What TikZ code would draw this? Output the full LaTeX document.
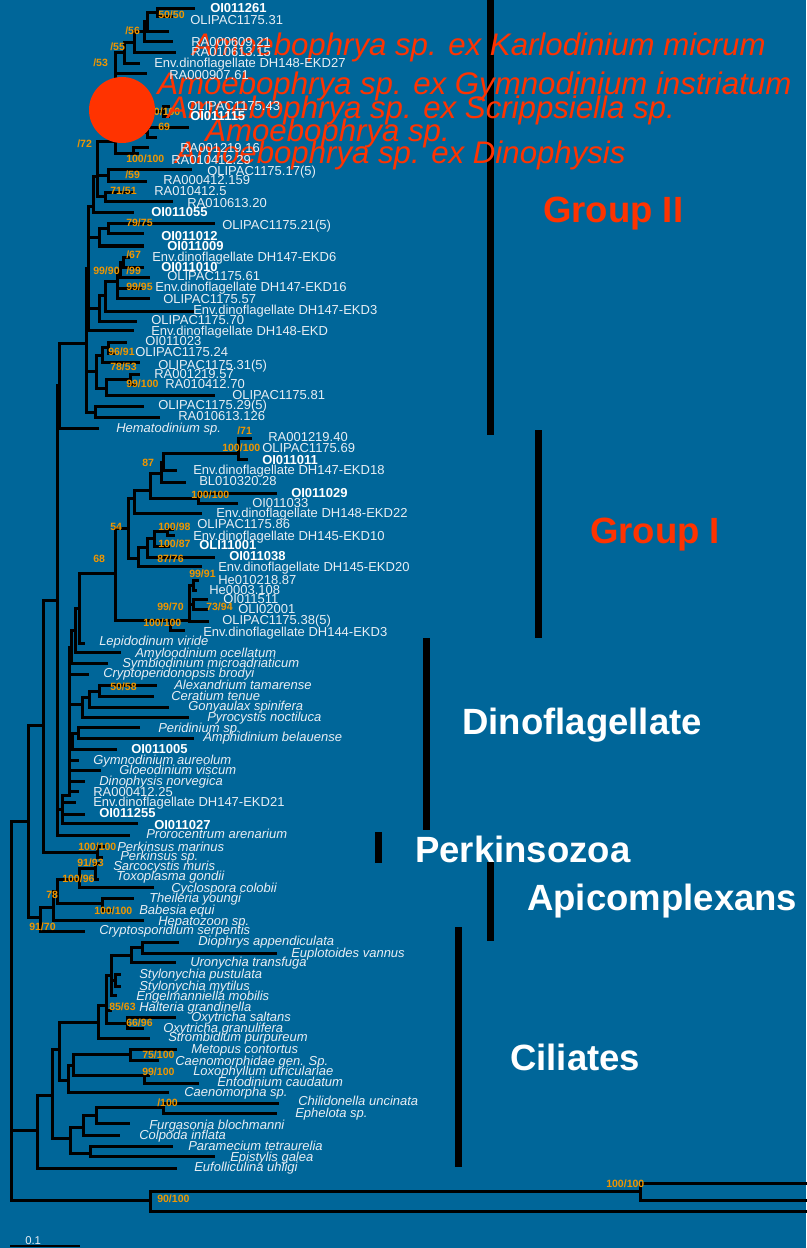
\documentclass[tikz,border=0pt]{standalone}
\usepackage{fontspec}
\setmainfont{Liberation Sans}
\definecolor{bgc}{RGB}{0,102,153}
\definecolor{bootc}{RGB}{240,150,0}
\definecolor{redc}{RGB}{255,51,0}
\definecolor{labc}{RGB}{232,238,244}
\newcommand\nw[3]{\coordinate (#1) at (#2,#3);}
\newcommand\kids[2]{\foreach \kk in {#2}{\draw[br] (#1) |- (\kk);}}
\newcommand\lr[4]{\node[lab] (#1) at (#2,#3) {#4};}
\newcommand\lbd[4]{\node[labb] (#1) at (#2,#3) {#4};}
\newcommand\lit[4]{\node[labi] (#1) at (#2,#3) {#4};}
\newcommand\bs[4]{\node[boot] (#1) at (#2,#3) {#4};}
\begin{document}
\begin{tikzpicture}[x=0.75pt,y=-0.75pt,
  br/.style={line width=2.25pt, line cap=rect, black},
  lab/.style={anchor=base west, inner sep=0pt, yshift=-3.5pt, text=labc, font=\fontsize{9.75}{10}\selectfont},
  labb/.style={lab, text=white, font=\fontsize{9.75}{10}\selectfont\bfseries},
  labi/.style={lab, font=\fontsize{9.75}{10}\selectfont\itshape},
  boot/.style={anchor=base west, inner sep=0pt, yshift=-2.85pt, text=bootc, font=\fontsize{7.9}{8}\selectfont\bfseries},
  redl/.style={anchor=base west, inner sep=0pt, yshift=-8.4pt, text=redc, font=\fontsize{23.4}{24}\selectfont\itshape},
  grp/.style={anchor=base west, inner sep=0pt, yshift=-9.8pt, font=\fontsize{27.4}{28}\selectfont\bfseries}]
\fill[bgc] (0,0) rectangle (806,1248);
\useasboundingbox (0,0) rectangle (806,1248);
% ---------------- Group II ----------------
\nw{t1}{193}{9} \nw{t2}{171}{17} \nw{n1}{157}{13}
\nw{t3}{167}{32} \nw{n2}{147}{22}
\nw{t4}{171}{42} \nw{n3}{144}{32}
\nw{t5}{174}{53} \nw{n4}{134}{43}
\nw{t6}{138}{64} \nw{n5}{124}{53}
\nw{t7}{145}{74}
\nw{tb1}{168}{107} \nw{tb2}{168}{117} \nw{nB}{163}{112}
\nw{tc1}{187}{128} \nw{tc2}{155}{138} \nw{nsix}{147}{133}
\nw{nC}{140}{120}
\nw{td1}{147}{148} \nw{td2}{137}{154} \nw{nD}{133}{154}
\nw{nE}{115}{142}
\nw{te1}{190}{170} \nw{te2}{145}{182} \nw{nfn}{108}{176}
\nw{tf1}{133}{193} \nw{tf2}{171}{202} \nw{nsf}{105}{197}
\nw{nF}{97}{177}
\nw{tg}{132}{213} \nw{nI}{93}{207}
\nw{th1}{213}{224} \nw{th2}{142}{234} \nw{nsev}{108}{229}
\nw{th3}{142}{246} \nw{nHn}{99}{238}
\nw{ti1}{128}{257} \nw{ti2}{142}{267} \nw{nsx}{123}{262}
\nw{ti3}{148}{277} \nw{nnn}{120}{270}
\nw{ti4}{140}{288} \nw{ti5}{148}{298} \nw{nG}{117}{281}
\nw{ti6}{192}{311} \nw{nnz}{105}{295}
\nw{ti7}{135}{321} \nw{nH}{99}{308}
\nw{ti8}{132}{330} \nw{nJ}{88}{268}
\nw{tj1}{125}{342} \nw{tj2}{113}{353} \nw{nO}{108}{347}
\nw{tj3}{138}{362} \nw{nP}{102}{355}
\nw{tj4}{138}{374} \nw{tj5}{135}{384} \nw{nnh}{130}{379}
\nw{tj6}{213}{395} \nw{nQ}{106}{388}
\nw{nM}{96}{371}
\nw{tk1}{142}{406} \nw{tk2}{158}{417} \nw{nR}{95}{412}
\nw{nK}{86}{343}
\nw{tl}{97}{428} \nw{nGII}{59}{385}
\kids{n1}{t1,t2}
\kids{n2}{n1,t3}
\kids{n3}{n2,t4}
\kids{n4}{n3,t5}
\kids{n5}{n4,t6}
\kids{nB}{tb1,tb2}
\kids{nsix}{tc1,tc2}
\kids{nC}{nB,nsix}
\kids{nD}{td1,td2}
\kids{nE}{n5,t7,nC,nD}
\kids{nfn}{te1,te2}
\kids{nsf}{tf1,tf2}
\kids{nF}{nE,nfn,nsf}
\kids{nI}{nF,tg}
\kids{nsev}{th1,th2}
\kids{nHn}{nsev,th3}
\kids{nsx}{ti1,ti2}
\kids{nnn}{nsx,ti3}
\kids{nG}{nnn,ti4,ti5}
\kids{nnz}{nG,ti6}
\kids{nH}{nnz,ti7}
\kids{nJ}{nI,nHn,nH,ti8}
\kids{nO}{tj1,tj2}
\kids{nP}{nO,tj3}
\kids{nnh}{tj4,tj5}
\kids{nQ}{nnh,tj6}
\kids{nM}{nP,nQ}
\kids{nR}{tk1,tk2}
\kids{nK}{nJ,nM,nR}
\kids{nGII}{nK,tl}
% ---------------- Group I ----------------
\nw{ua1}{250}{438} \nw{ua2}{246}{459} \nw{nUa}{238}{453}
\nw{ub}{175}{470} \nw{nUb}{163}{462}
\nw{uc}{184}{482} \nw{nUc}{161}{473}
\nw{ud1}{275}{493} \nw{ud2}{236}{503} \nw{nUd}{198}{498}
\nw{nUe}{150}{490}
\nw{uf}{200}{513} \nw{nUf}{134}{498}
\nw{ug1}{172}{529} \nw{ug2}{173}{535} \nw{nUg}{167}{531}
\nw{uh}{168}{546} \nw{nUh}{154}{538}
\nw{ui}{213}{557} \nw{nUi}{147}{547}
\nw{uj}{200}{566} \nw{nUj}{138}{558}
\nw{nUk}{128}{528}
\nw{ul1}{197}{580} \nw{ul2}{195}{590} \nw{nUl}{193}{585}
\nw{um1}{206}{599} \nw{um2}{206}{609} \nw{nUm}{193}{604}
\nw{un}{207}{621} \nw{nUn}{189}{620}
\nw{uo}{183}{630} \nw{nUo}{170}{620}
\nw{nGI}{115}{573}
\kids{nUa}{ua1,ua2}
\kids{nUb}{nUa,ub}
\kids{nUc}{nUb,uc}
\kids{nUd}{ud1,ud2}
\kids{nUe}{nUc,nUd}
\kids{nUf}{nUe,uf}
\kids{nUg}{ug1,ug2}
\kids{nUh}{nUg,uh}
\kids{nUi}{nUh,ui}
\kids{nUj}{nUi,uj}
\kids{nUk}{nUf,nUj}
\kids{nUl}{ul1,ul2}
\kids{nUm}{um1,um2}
\kids{nUn}{nUl,nUm,un}
\kids{nUo}{nUn,uo}
\kids{nGI}{nUk,nUo}
% ---------------- Dinoflagellates, Perkinsus ----------------
\nw{va}{83}{643} \nw{nVa}{79}{608}
\nw{vb}{119}{652} \nw{nVb}{75}{630}
\nw{vc}{106}{663} \nw{nVc}{71}{647}
\nw{vd}{87}{674}
\nw{ve1}{155}{685} \nw{ve2}{152}{696} \nw{nVe}{99}{691}
\nw{vf}{167}{707} \nw{nVf}{89}{697}
\nw{vg}{187}{717} \nw{nVg}{82}{704}
\nw{vh1}{138}{727} \nw{vh2}{192}{738} \nw{nVh}{78}{733}
\nw{vi}{115}{749} \nw{nVi}{72}{741}
\nw{vj1}{77}{760} \nw{vj2}{99}{770} \nw{vj3}{83}{781} \nw{vj4}{77}{791}
\nw{nVj}{69}{795}
\nw{vk1}{74}{802} \nw{vk2}{83}{814} \nw{vk3}{136}{823} \nw{nVk}{62}{809}
\nw{vl}{128}{835} \nw{nVl}{57}{600}
\nw{vm1}{104}{846} \nw{vm2}{101}{857} \nw{nVm}{97}{852}
\nw{nVn}{43}{725}
\kids{nVa}{nGI,va}
\kids{nVb}{nVa,vb}
\kids{nVc}{nVb,vc}
\kids{nVe}{ve1,ve2}
\kids{nVf}{nVe,vf}
\kids{nVg}{nVf,vg}
\kids{nVh}{vh1,vh2}
\kids{nVi}{nVh,vi}
\kids{nVj}{nVc,vd,nVg,nVi,vj1,vj2,vj3,vj4}
\kids{nVk}{nVj,vk1,vk2,vk3}
\kids{nVl}{nGII,nVk,vl}
\kids{nVm}{vm1,vm2}
\kids{nVn}{nVl,nVm}
% ---------------- Apicomplexa ----------------
\nw{wa1}{98}{863} \nw{wa2}{97}{879} \nw{nWa}{95}{868}
\nw{wb}{152}{887} \nw{nWb}{79}{879}
\nw{wc1}{132}{898} \nw{wc2}{110}{910} \nw{nWc}{102}{903}
\nw{nWd}{57}{891}
\nw{we}{142}{920} \nw{nWe}{53}{907}
\nw{wf}{83}{931} \nw{nWf}{40}{917}
\nw{nWg}{28}{821}
\kids{nWa}{wa1,wa2}
\kids{nWb}{nWa,wb}
\kids{nWc}{wc1,wc2}
\kids{nWd}{nWb,nWc}
\kids{nWe}{nWd,we}
\kids{nWf}{nWe,wf}
\kids{nWg}{nVn,nWf}
% ---------------- Ciliates ----------------
\nw{xa1}{177}{942} \nw{xa2}{275}{953} \nw{nXa}{142}{947}
\nw{xb}{174}{962} \nw{nXb}{131}{955}
\nw{xc1}{119}{974} \nw{xc2}{119}{986} \nw{nXc}{115}{980}
\nw{xd}{115}{995} \nw{nXd}{111}{975}
\nw{xe}{110}{1010}
\nw{xf1}{174}{1017} \nw{xf2}{142}{1028} \nw{nXf}{127}{1023}
\nw{nXg}{106}{1005}
\nw{xh}{148}{1038} \nw{nXh}{98}{1022}
\nw{xi1}{175}{1049} \nw{xi2}{157}{1060} \nw{nXi}{130}{1054}
\nw{xj1}{148}{1075} \nw{xj2}{197}{1083} \nw{nXj}{144}{1075}
\nw{nXk}{73}{1065}
\nw{xl}{167}{1092} \nw{nXl}{68}{1080}
\nw{nXm}{59}{1049}
\nw{xn1}{277}{1103} \nw{xn2}{275}{1113} \nw{nXn}{163}{1107}
\nw{xo}{128}{1123} \nw{nXo}{96}{1115}
\nw{xp}{118}{1135} \nw{nXp}{83}{1127}
\nw{xq1}{171}{1146} \nw{xq2}{213}{1156} \nw{nXq}{90}{1153}
\nw{nXr}{70}{1138}
\nw{nXs}{52}{1095}
\nw{xt}{175}{1168} \nw{nXt}{37}{1130}
\kids{nXa}{xa1,xa2}
\kids{nXb}{nXa,xb}
\kids{nXc}{xc1,xc2}
\kids{nXd}{nXb,nXc,xd}
\kids{nXf}{xf1,xf2}
\kids{nXg}{nXd,xe,nXf}
\kids{nXh}{nXg,xh}
\kids{nXi}{xi1,xi2}
\kids{nXj}{xj1,xj2}
\kids{nXk}{nXi,nXj}
\kids{nXl}{nXk,xl}
\kids{nXm}{nXh,nXl}
\kids{nXn}{xn1,xn2}
\kids{nXo}{nXn,xo}
\kids{nXp}{nXo,xp}
\kids{nXq}{xq1,xq2}
\kids{nXr}{nXp,nXq}
\kids{nXs}{nXm,nXr}
\kids{nXt}{nXs,xt}
% ---------------- Root and outgroup ----------------
\nw{ya1}{806}{1183} \nw{ya2}{806}{1200} \nw{nYa}{640}{1191}
\nw{yb}{806}{1211} \nw{nYb}{150}{1200}
\nw{nRoot}{11}{1130}
\kids{nYa}{ya1,ya2}
\kids{nYb}{nYa,yb}
\kids{nRoot}{nWg,nXt,nYb}
% ---------------- Group bars ----------------
\fill[black] (486.5,0) rectangle (493.5,435);
\fill[black] (534.5,430) rectangle (541.5,638);
\fill[black] (422.5,638) rectangle (429.5,830);
\fill[black] (374.5,832) rectangle (381.5,863);
\fill[black] (486.5,862) rectangle (493.5,941);
\fill[black] (454.5,927) rectangle (461.5,1167);
% scale bar
\coordinate (sb1) at (10,1246); \coordinate (sb2) at (80,1246);
\draw[line width=1.5pt] (sb1) -- (sb2);
\node[anchor=base west, inner sep=0pt, yshift=-3pt, text=labc, font=\fontsize{8.5}{9}\selectfont] (sbl) at (25,1240) {0.1};
% bootstrap hidden by circle
\bs{B5}{142}{112}{100/100}
% red circle
\node[circle, fill=redc, minimum size=49.5pt, inner sep=0pt] (circ) at (122,110) {};
% red labels
\node[redl] (R1) at (192,44) {Amoebophrya sp. ex Karlodinium micrum};
\node[redl] (R2) at (157,83) {Amoebophrya sp. ex Gymnodinium instriatum};
\node[redl] (R3) at (167,107) {Amoebophrya sp. ex Scrippsiella sp.};
\node[redl] (R4) at (205,130) {Amoebophrya sp.};
\node[redl] (R5) at (175,152) {Amoebophrya sp. ex Dinophysis};
% group labels
\node[grp, text=redc] (G2) at (543,209) {Group II};
\node[grp, text=redc] (G1) at (590,530) {Group I};
\node[grp, text=white] (GD) at (462,721) {Dinoflagellate};
\node[grp, text=white] (GP) at (415,849) {Perkinsozoa};
\node[grp, text=white] (GA) at (527,897) {Apicomplexans};
\node[grp, text=white] (GC) at (510,1057) {Ciliates};
% ---------------- tip labels Group II ----------------
\lbd{L1}{210}{8}{OI011261}
\bs{B1}{158}{15}{50/50}
\lr{L2}{190}{20}{OLIPAC1175.31}
\bs{B2}{125}{31}{/56}
\lr{L3}{191}{42}{RA000609.21}
\bs{B3}{110}{47}{/55}
\lr{L4}{191}{52}{RA010613.15}
\bs{B4}{93}{63}{/53}
\lr{L5}{154}{63}{Env.dinoflagellate DH148-EKD27}
\lr{L6}{169}{75}{RA000907.61}
\lr{L7}{187}{106}{OLIPAC1175.43}
\lbd{L8}{190}{116}{OI011115}
\bs{B6}{158}{127}{69}
\bs{B7}{77}{144}{/72}
\lr{L9}{180}{148}{RA001219.16}
\bs{B8}{126}{159}{100/100}
\lr{L10}{171}{160}{RA010412.29}
\lr{L11}{207}{171}{OLIPAC1175.17(5)}
\bs{B9}{125}{175}{/59}
\lr{L12}{163}{180}{RA000412.159}
\bs{B10}{110}{191}{71/51}
\lr{L13}{154}{191}{RA010412.5}
\lr{L14}{187}{203}{RA010613.20}
\lbd{L15}{151}{212}{OI011055}
\bs{B11}{126}{223}{79/75}
\lr{L16}{222}{225}{OLIPAC1175.21(5)}
\lbd{L17}{161}{236}{OI011012}
\lbd{L18}{167}{246}{OI011009}
\bs{B12}{126}{255}{/67}
\lr{L19}{152}{257}{Env.dinoflagellate DH147-EKD6}
\lbd{L20}{161}{267}{OI011010}
\bs{B13}{93}{271}{99/90}
\bs{B14}{126}{271}{/99}
\lr{L21}{167}{276}{OLIPAC1175.61}
\bs{B15}{126}{287}{99/95}
\lr{L22}{155}{287}{Env.dinoflagellate DH147-EKD16}
\lr{L23}{163}{299}{OLIPAC1175.57}
\lr{L24}{193}{310}{Env.dinoflagellate DH147-EKD3}
\lr{L25}{151}{320}{OLIPAC1175.70}
\lr{L26}{151}{331}{Env.dinoflagellate DH148-EKD}
\lr{L27}{145}{341}{OI011023}
\bs{B16}{108}{352}{96/91}
\lr{L28}{135}{352}{OLIPAC1175.24}
\lr{L29}{158}{365}{OLIPAC1175.31(5)}
\bs{B17}{110}{367}{78/53}
\lr{L30}{154}{374}{RA001219.57}
\bs{B18}{126}{384}{99/100}
\lr{L31}{165}{384}{RA010412.70}
\lr{L32}{232}{395}{OLIPAC1175.81}
\lr{L33}{158}{405}{OLIPAC1175.29(5)}
\lr{L34}{178}{416}{RA010613.126}
\lit{L35}{116}{428}{Hematodinium sp.}
% ---------------- tip labels Group I ----------------
\bs{B19}{237}{431}{/71}
\lr{L36}{268}{437}{RA001219.40}
\bs{B20}{222}{448}{100/100}
\lr{L37}{262}{448}{OLIPAC1175.69}
\lbd{L38}{262}{460}{OI011011}
\bs{B21}{142}{463}{87}
\lr{L39}{193}{470}{Env.dinoflagellate DH147-EKD18}
\lr{L40}{199}{481}{BL010320.28}
\lbd{L41}{291}{493}{OI011029}
\bs{B22}{191}{495}{100/100}
\lr{L42}{252}{503}{OI011033}
\lr{L43}{216}{513}{Env.dinoflagellate DH148-EKD22}
\lr{L44}{197}{524}{OLIPAC1175.86}
\bs{B23}{110}{527}{54}
\bs{B24}{158}{527}{100/98}
\lr{L45}{193}{536}{Env.dinoflagellate DH145-EKD10}
\bs{B25}{158}{544}{100/87}
\lbd{L46}{199}{545}{OLI11001}
\lbd{L47}{229}{556}{OI011038}
\bs{B26}{93}{559}{68}
\bs{B27}{157}{559}{87/76}
\lr{L48}{218}{567}{Env.dinoflagellate DH145-EKD20}
\bs{B28}{189}{574}{99/91}
\lr{L49}{218}{580}{He010218.87}
\lr{L50}{209}{590}{He0003.108}
\lr{L51}{223}{599}{OI011511}
\bs{B29}{157}{607}{99/70}
\bs{B30}{206}{607}{73/94}
\lr{L52}{238}{609}{OLI02001}
\lr{L53}{222}{620}{OLIPAC1175.38(5)}
\bs{B31}{143}{623}{100/100}
\lr{L54}{203}{632}{Env.dinoflagellate DH144-EKD3}
% ---------------- dinoflagellates ----------------
\lit{L55}{99}{641}{Lepidodinum viride}
\lit{L56}{135}{653}{Amyloodinium ocellatum}
\lit{L57}{122}{663}{Symbiodinium microadriaticum}
\lit{L58}{103}{673}{Cryptoperidonopsis brodyi}
\lit{L59}{174}{685}{Alexandrium tamarense}
\bs{B32}{110}{687}{50/58}
\lit{L60}{171}{696}{Ceratium tenue}
\lit{L61}{188}{706}{Gonyaulax spinifera}
\lit{L62}{207}{717}{Pyrocystis noctiluca}
\lit{L63}{158}{728}{Peridinium sp.}
\lit{L64}{203}{737}{Amphidinium belauense}
\lbd{L65}{131}{749}{OI011005}
\lit{L66}{93}{760}{Gymnodinium aureolum}
\lit{L67}{119}{770}{Gloeodinium viscum}
\lit{L68}{99}{781}{Dinophysis norvegica}
\lr{L69}{93}{792}{RA000412.25}
\lr{L70}{93}{802}{Env.dinoflagellate DH147-EKD21}
\lbd{L71}{99}{813}{OI011255}
\lbd{L72}{154}{825}{OI011027}
\lit{L73}{146}{834}{Prorocentrum arenarium}
\bs{B33}{78}{847}{100/100}
\lit{L74}{117}{847}{Perkinsus marinus}
\lit{L75}{120}{856}{Perkinsus sp.}
% ---------------- apicomplexa ----------------
\bs{B34}{77}{863}{91/93}
\lit{L76}{113}{866}{Sarcocystis muris}
\lit{L77}{116}{876}{Toxoplasma gondii}
\bs{B35}{62}{879}{100/96}
\lit{L78}{171}{888}{Cyclospora colobii}
\bs{B36}{46}{895}{78}
\lit{L79}{149}{898}{Theileria youngi}
\lit{L80}{139}{910}{Babesia equi}
\bs{B37}{94}{911}{100/100}
\lit{L81}{158}{921}{Hepatozoon sp.}
\bs{B38}{29}{927}{91/70}
\lit{L82}{99}{930}{Cryptosporidium serpentis}
% ---------------- ciliates ----------------
\lit{L83}{198}{941}{Diophrys appendiculata}
\lit{L84}{291}{953}{Euplotoides vannus}
\lit{L85}{190}{962}{Uronychia transfuga}
\lit{L86}{139}{974}{Stylonychia pustulata}
\lit{L87}{139}{986}{Stylonychia mytilus}
\lit{L88}{136}{996}{Engelmanniella mobilis}
\bs{B39}{109}{1007}{85/63}
\lit{L89}{139}{1007}{Halteria grandinella}
\lit{L90}{191}{1017}{Oxytricha saltans}
\bs{B40}{126}{1023}{66/96}
\lit{L91}{163}{1028}{Oxytricha granulifera}
\lit{L92}{168}{1037}{Strombidium purpureum}
\lit{L93}{191}{1049}{Metopus contortus}
\bs{B41}{142}{1055}{75/100}
\lit{L94}{175}{1061}{Caenomorphidae gen. Sp.}
\lit{L95}{193}{1071}{Loxophyllum utriculariae}
\bs{B42}{142}{1072}{99/100}
\lit{L96}{217}{1082}{Entodinium caudatum}
\lit{L97}{184}{1092}{Caenomorpha sp.}
\lit{L98}{298}{1101}{Chilidonella uncinata}
\bs{B43}{157}{1103}{/100}
\lit{L99}{295}{1113}{Ephelota sp.}
\lit{L100}{149}{1125}{Furgasonia blochmanni}
\lit{L101}{139}{1135}{Colpoda inflata}
\lit{L102}{188}{1146}{Paramecium tetraurelia}
\lit{L103}{230}{1157}{Epistylis galea}
\lit{L104}{194}{1167}{Eufolliculina uhligi}
\bs{B44}{606}{1184}{100/100}
\bs{B45}{157}{1199}{90/100}
\end{tikzpicture}
\end{document}
